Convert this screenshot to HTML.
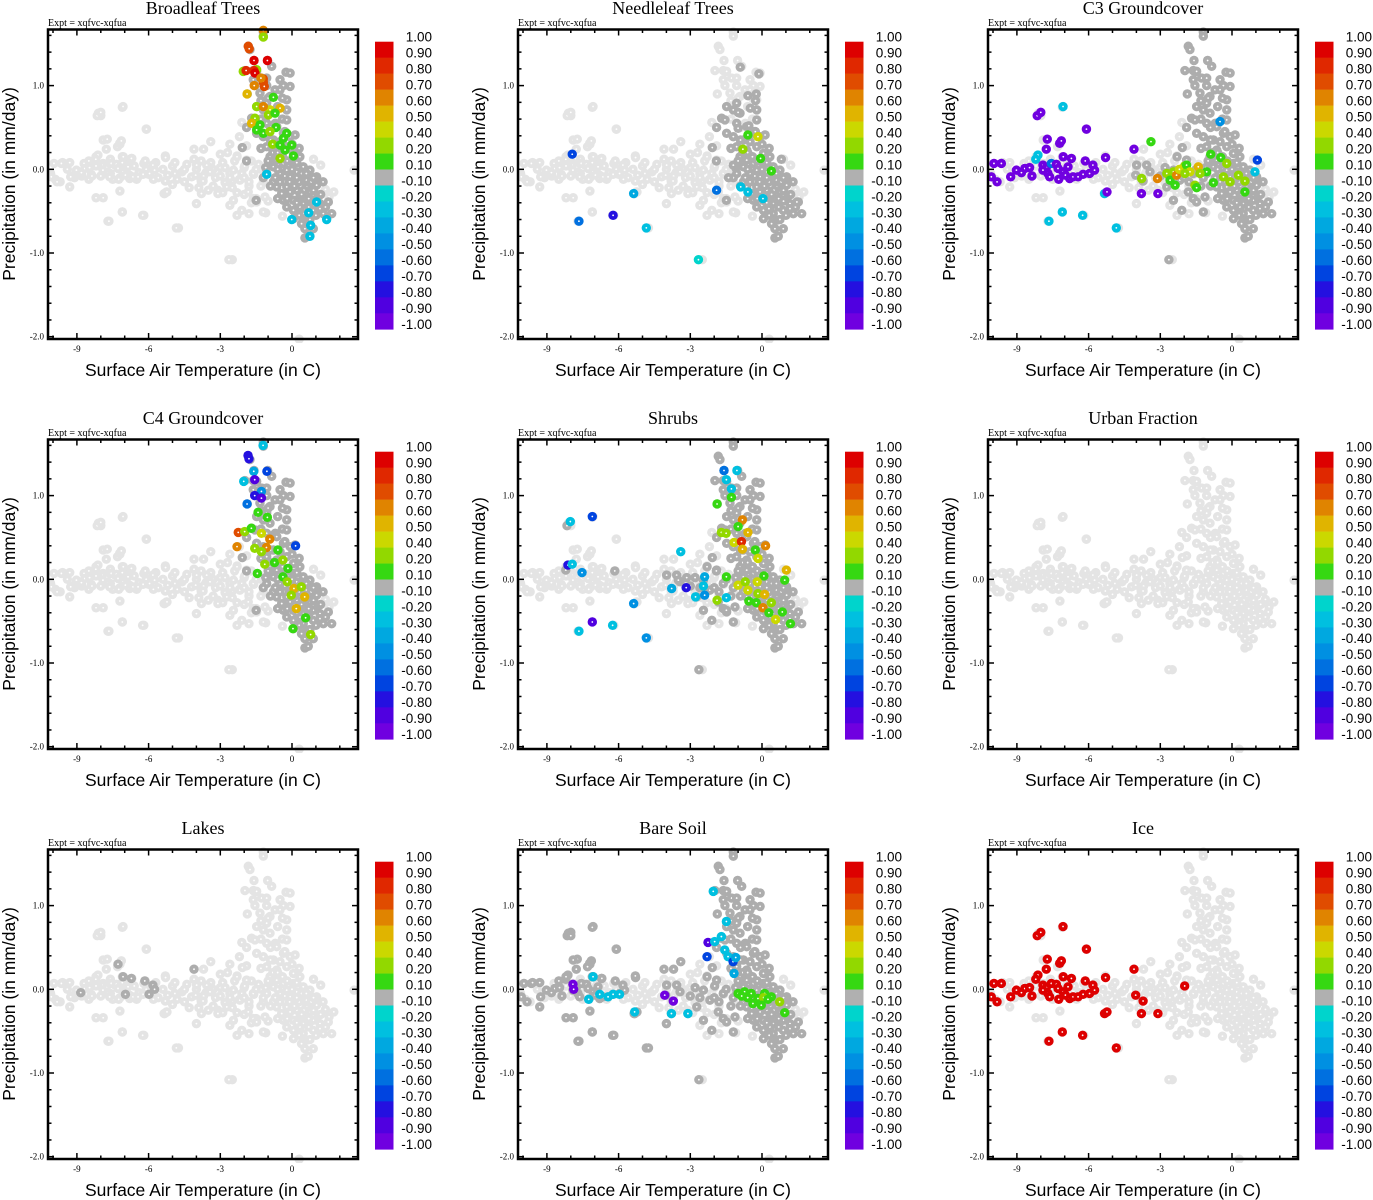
<!DOCTYPE html>
<html><head><meta charset="utf-8"><style>
html,body{margin:0;padding:0;background:#fff;}
svg{display:block;}
</style></head><body>
<svg id="chart" xmlns="http://www.w3.org/2000/svg" width="1373" height="1200" viewBox="0 0 1373 1200"></svg>
<script>
// ---------- data (Surface Air Temperature [C], Precipitation [mm/day]) ----------
const band = [[-9.0,-0.02],[-8.8,-0.08],[-8.6,0.02],[-8.4,-0.06],[-8.2,0.04],[-8.0,-0.08],[-7.8,0.0],[-7.6,-0.05],[-7.4,0.05],[-7.2,-0.1],[-7.0,0.0],[-6.8,-0.07],[-6.6,0.04],[-6.4,-0.04],[-6.2,0.07],[-6.0,-0.06],[-5.8,0.02],[-5.6,-0.1],[-5.4,0.0],[-5.2,-0.07],[-5.0,0.04],[-4.8,-0.12],[-4.6,-0.03],[-4.4,0.06],[-4.2,-0.09],[-4.0,0.0],[-3.8,-0.14],[-3.6,-0.04],[-3.4,0.08],[-3.2,-0.1],[-3.0,0.02],[-2.8,-0.16],[-2.6,-0.05],[-2.4,0.1],[-2.2,-0.12],[-2.0,0.02],[-1.8,-0.2],[-1.6,-0.06],[-1.4,0.06],[-1.2,-0.15],[-2.9,-0.28],[-2.0,-0.3],[-1.5,-0.35],[-3.3,-0.2],[-4.3,-0.22],[-5.8,-0.12],[-6.8,0.1],[-7.6,0.12],[-8.7,0.07],[-9.1,-0.1],[-3.8,0.1],[-4.9,0.08],[-2.7,0.2],[-1.9,0.28],[-4.5,-0.15],[-3.5,-0.25],[-2.5,-0.22],[-5.0,-0.18],[-9.4,0.0],[-9.2,-0.08],[-8.5,-0.12],[-7.9,0.07],[-7.5,-0.12],[-7.1,0.08],[-6.5,-0.12],[-6.1,0.0],[-5.7,0.08],[-5.3,-0.14],[-4.9,-0.05],[-4.5,0.0],[-4.1,0.12],[-3.7,-0.08],[-3.3,0.0],[-2.9,0.08],[-2.5,-0.14],[-2.1,-0.05],[-1.7,0.1],[-1.3,0.0],[-3.9,-0.22],[-3.1,-0.25],[-2.3,-0.28],[-1.7,-0.4],[-1.0,-0.38],[-2.6,0.3],[-3.0,0.18]];
const outliers = [[-7.1,0.74],[-8.1,0.67],[-8.0,0.64],[-6.1,0.48],[-7.9,0.35],[-7.2,0.3],[-7.3,0.27],[-3.4,0.33],[-3.7,0.24],[-8.2,0.15],[-8.5,0.1],[-7.1,0.15],[-6.7,0.13],[-9.6,0.08],[-9.3,0.08],[-5.3,0.16],[-9.3,-0.21],[-7.2,-0.26],[-8.2,-0.34],[-7.9,-0.34],[-5.35,-0.29],[-5.25,-0.27],[-4.0,-0.41],[-7.1,-0.51],[-6.2,-0.55],[-7.7,-0.62],[-4.75,-0.7],[-2.5,-1.08],[-2.6,-0.43],[-2.3,-0.55],[-1.8,-0.53],[-1.1,-0.52],[-2.2,0.39],[-2.3,0.16],[-2.1,0.56],[2.6,-0.01],[0.3,-2.03],[0.9,0.12],[1.2,0.05],[1.75,-0.27],[1.55,-0.33],[1.4,-0.24],[-0.4,-0.56],[-10.1,-0.05],[-9.9,-0.12],[-9.7,-0.15]];
const leftCloud = [[-7.07,0.75],[-8.15,0.64],[-8.0,0.68],[-6.09,0.48],[-7.73,0.36],[-7.21,0.31],[-7.14,0.34],[-7.77,0.24],[-8.12,0.17],[-8.21,0.12],[-7.06,0.15],[-6.72,0.13],[-6.14,0.1],[-5.29,0.14],[-4.1,0.24],[-1.98,0.04],[-9.96,0.07],[-9.65,0.07],[-9.02,-0.01],[-8.81,-0.04],[-8.67,0.01],[-8.47,0.02],[-7.91,0.05],[-7.77,0.02],[-7.56,0.07],[-7.35,0.06],[-7.28,0.01],[-6.86,0.03],[-7.91,-0.01],[-7.7,-0.05],[-7.63,-0.09],[-7.07,-0.03],[-6.97,-0.07],[-6.79,-0.11],[-6.65,-0.09],[-6.44,-0.09],[-6.23,-0.06],[-5.96,-0.05],[-5.82,0.05],[-5.75,-0.01],[-10.07,-0.09],[-9.83,-0.15],[-9.26,-0.09],[-8.37,-0.08],[-7.25,-0.12],[-4.03,-0.07],[-3.72,-0.14],[-5.33,-0.29],[-5.23,-0.27],[-3.79,-0.29],[-3.1,-0.29],[-7.1,-0.51],[-6.25,-0.55],[-7.66,-0.62],[-4.84,-0.7]];
const c3LeftVals = [-0.25,-0.95,-0.95,-0.95,-0.95,-0.95,-0.95,-0.95,-0.25,-0.25,-0.95,-0.95,-0.95,-0.95,-0.95,0.3,-0.95,-0.95,-0.95,-0.95,-0.95,-0.95,-0.95,-0.95,-0.6,-0.95,-0.95,-0.95,-0.95,-0.95,-0.95,-0.95,-0.95,-0.95,-0.95,-0.95,-0.95,-0.95,-0.95,-0.95,-0.95,-0.95,-0.95,-0.95,-0.95,0,0,-0.25,-0.95,-0.95,-0.95,-0.25,-0.25,-0.25,-0.25];
const iceLeftVals = [0.95,0.95,0.95,0.95,0.95,0.95,0.95,0.95,0.95,0.95,0.95,0.95,0.95,0.95,0.95,0.95,0.95,0.95,0.95,0.95,0.95,0.95,0.95,0.95,0.95,0.95,0.95,0.95,0.95,0.95,0.95,0.95,0.95,0.95,0.95,0.95,0.95,0.95,0.95,0.95,0.95,0.95,0.95,0.95,0.95,0.95,0.95,0.95,0.95,0.95,0.95,0.95,0.95,0.95,0.95];
const armUpper = [[-1.2,1.64],[-1.2,1.59],[-1.83,1.47],[-1.76,1.43],[-1.59,1.30],[-1.02,1.30],[-1.97,1.18],[-1.62,1.18],[-1.48,1.17],[-0.85,1.23],[-0.25,1.16],[-0.08,1.15],[-1.62,1.07],[-1.27,1.09],[-1.06,1.09],[-0.5,1.07],[-1.55,1.0],[-1.06,1.0],[-0.36,1.0],[-0.08,0.99],[-1.87,0.9],[-1.34,0.91],[-0.92,0.87],[-0.71,0.95],[-0.22,0.83],[-0.6,0.75],[-0.4,0.85],[-1.3,0.6],[-0.5,0.95],[-1.0,0.85],[-1.3,0.82],[-0.7,0.55],[-0.4,0.6],[-0.9,0.5]];
const armLower = [[-0.22,0.71],[-1.06,0.79],[-1.48,0.75],[-1.2,0.71],[-0.92,0.67],[-1.69,0.61],[-1.55,0.59],[-1.06,0.55],[-0.64,0.51],[-0.22,0.59],[-1.9,0.50],[-1.48,0.43],[-1.2,0.39],[-0.78,0.35],[-0.36,0.43],[-0.08,0.39],[0.13,0.41],[-2.08,0.26],[-1.06,0.27],[-0.64,0.23],[-0.22,0.27],[0.06,0.19],[0.33,0.15],[-0.78,0.03],[-0.36,0.07],[0.06,0.07],[0.47,0.03],[0.75,-0.01],[-1.06,-0.05],[-0.5,-0.05],[-0.08,-0.09],[0.33,-0.09],[0.61,-0.13],[1.03,-0.09],[-0.64,-0.21],[-0.22,-0.21],[0.2,-0.25],[0.61,-0.21],[1.03,-0.19],[-0.36,-0.37],[0.06,-0.37],[0.47,-0.41],[0.89,-0.37],[1.17,-0.41],[1.52,-0.39],[0.06,-0.49],[0.47,-0.53],[0.89,-0.49],[1.31,-0.53],[1.66,-0.53],[0.06,-0.59],[0.61,-0.61],[0.89,-0.71],[0.54,-0.71],[0.54,-0.82],[0.68,-0.8],[-0.92,0.15],[-0.64,0.11],[-0.22,-0.01],[0.2,-0.03],[-0.78,-0.15],[-0.43,-0.29],[-0.08,-0.27],[0.33,-0.33],[0.75,-0.27],[1.1,-0.31],[-0.22,-0.45],[0.33,-0.45],[1.17,-0.47],[-1.0,0.1],[-0.8,0.2],[-0.6,0.0],[-0.4,0.15],[-0.2,0.1],[0.0,0.0],[0.2,0.08],[0.4,-0.05],[0.6,-0.05],[0.8,-0.15],[-1.2,-0.1],[-0.9,-0.2],[-0.7,-0.1],[-0.5,-0.15],[-0.3,-0.08],[-0.1,-0.15],[0.1,-0.2],[0.3,-0.15],[0.5,-0.25],[0.7,-0.35],[0.9,-0.25],[1.2,-0.3],[-0.6,-0.35],[-0.2,-0.35],[0.2,-0.4],[0.4,-0.3],[0.7,-0.45],[1.0,-0.55],[1.4,-0.45],[0.3,-0.55],[0.4,-0.65],[0.75,-0.6],[-0.9,0.35],[-0.5,0.33],[-1.3,0.25],[0.0,0.3],[0.3,0.25],[-1.1,0.02],[-0.3,0.45],[0.2,-0.1],[0.9,-0.1],[1.3,-0.15],[-0.6,0.2]];
const horizRight = [[-3.99,0.05],[-3.57,0.05],[-3.43,-0.03],[-2.73,-0.21],[-2.45,-0.37],[-1.83,-0.27],[-1.62,-0.35],[-1.48,-0.39],[-1.13,-0.33],[-2.1,-0.49],[-1.2,-0.51],[-2.64,-1.08],[-1.9,0.11],[-2.3,0.15],[-2.45,-0.01],[-1.62,-0.05],[-2.18,-0.13],[-3.0,-0.08],[-2.8,0.02],[-1.3,-0.2],[-2.0,-0.1],[-1.5,0.0],[-2.6,-0.1],[-1.8,-0.15]];
const needleGreyExtra = [[-0.91,1.22],[-0.13,1.14],[-0.59,0.88],[-0.24,0.9],[-0.27,0.82],[-0.49,0.73],[-1.0,0.68],[-1.0,0.49],[-0.55,0.52],[-0.28,0.45],[-1.91,0.1],[-1.49,-0.37],[0.81,0.12],[0.9,-0.38],[1.46,-0.39],[0.29,-0.47],[-1.2,0.05],[-1.4,-0.1]];
const lakesGrey = [[-7.28,0.3],[-7.07,0.15],[-6.72,0.13],[-6.16,0.1],[-5.82,0.05],[-5.75,0.0],[-5.98,-0.06],[-6.97,-0.06],[-8.84,-0.04],[-4.1,0.24]];
const shrubGreyExtra = [[-8.16,0.64],[-8.21,0.11],[-6.16,0.1],[-3.5,-0.01],[-3.15,0.02],[-1.91,0.1],[-1.49,-0.37]];
const broadExtraGrey = [[-1.9,0.1],[-1.5,-0.37]];

const broadColored = [[-1.2,1.66,0.65],[-1.2,1.58,0.3],[-1.83,1.47,0.75],[-1.79,1.44,0.75],[-1.59,1.3,0.95],[-1.03,1.3,0.95],[-2.04,1.17,0.3],[-1.92,1.18,0.85],[-1.48,1.19,0.3],[-1.59,1.18,0.85],[-1.55,1.15,0.95],[-1.2,1.08,0.7],[-1.2,1.04,0.7],[-1.3,1.09,0.65],[-1.58,1.0,0.6],[-1.16,0.99,0.75],[-1.88,0.9,0.55],[-0.78,0.86,0.15],[-1.48,0.75,0.3],[-0.92,0.71,0.45],[-0.5,0.73,0.5],[-0.99,0.65,0.3],[-0.71,0.67,0.15],[-1.2,0.75,0.65],[-1.55,0.61,0.3],[-1.69,0.55,0.55],[-1.34,0.53,0.15],[-1.48,0.47,0.15],[-1.2,0.43,0.15],[-0.67,0.5,0.15],[-0.92,0.45,0.3],[-0.22,0.43,0.15],[-0.36,0.37,0.15],[-0.81,0.3,0.3],[-0.5,0.29,0.15],[-0.01,0.29,0.15],[-0.29,0.23,0.15],[-0.5,0.13,0.3],[0.06,0.16,0.15],[-1.06,-0.06,-0.25],[-0.01,-0.6,-0.3],[0.78,-0.67,-0.3],[0.75,-0.8,-0.25],[1.45,-0.6,-0.3],[1.03,-0.39,-0.25],[0.7,-0.52,-0.25]];
const needleColored = [[-7.94,0.18,-0.7],[-7.66,-0.62,-0.55],[-6.23,-0.55,-0.75],[-5.37,-0.29,-0.35],[-4.84,-0.7,-0.3],[-2.66,-1.08,-0.2],[-1.9,-0.25,-0.55],[-0.59,0.41,0.15],[-0.17,0.39,0.4],[-0.8,0.24,0.35],[-0.06,0.13,0.15],[0.39,-0.02,0.15],[-0.89,-0.21,-0.3],[-0.59,-0.27,-0.3],[0.04,-0.35,-0.3]];
const c3Colored = [[-3.39,0.33,0.15],[-3.78,-0.11,0.3],[-3.12,-0.11,0.6],[-2.73,-0.05,0.3],[-2.45,-0.03,0.35],[-2.59,-0.13,0.15],[-2.32,-0.07,0.6],[-2.2,0.0,0.4],[-2.38,-0.19,0.15],[-1.9,0.05,0.15],[-1.76,-0.03,0.4],[-1.41,0.03,0.55],[-1.06,-0.03,0.15],[-1.55,-0.19,0.35],[-1.48,-0.22,0.15],[-0.89,0.18,0.15],[-0.47,0.14,0.15],[-0.22,0.07,0.3],[-0.78,-0.16,0.15],[-0.36,-0.09,0.3],[-0.08,-0.15,0.3],[0.27,-0.07,0.3],[0.54,-0.14,0.3],[0.54,-0.27,0.15],[-1.34,-0.05,0.3],[-1.97,-0.05,0.3],[1.06,0.11,-0.65],[0.96,-0.03,-0.25],[-0.5,0.57,-0.5]];
const c4Colored = [[-1.21,1.6,-0.3],[-1.84,1.48,-0.8],[-1.8,1.44,-0.8],[-1.6,1.29,-0.4],[-1.05,1.29,-0.7],[-2.02,1.17,-0.3],[-1.56,1.19,-0.85],[-1.28,1.05,-0.5],[-1.56,1.0,-0.75],[-1.28,0.97,-0.85],[-1.88,0.9,-0.6],[-1.42,0.8,0.15],[-1.03,0.74,0.15],[-2.25,0.56,0.75],[-1.98,0.57,0.3],[-1.7,0.61,0.15],[-2.3,0.39,0.6],[-1.28,0.55,0.4],[-0.93,0.48,0.65],[-1.07,0.38,0.6],[-1.56,0.37,0.3],[-1.28,0.33,0.35],[-0.59,0.35,0.15],[0.15,0.4,-0.7],[-1.14,0.18,0.3],[-0.73,0.2,0.15],[-0.38,0.23,0.3],[-0.17,0.13,0.15],[-1.45,0.07,0.15],[-0.38,0.03,0.15],[-0.2,-0.03,0.3],[0.08,-0.11,0.55],[0.39,-0.09,0.3],[0.53,-0.21,0.55],[-0.03,-0.19,0.3],[0.18,-0.35,0.5],[0.57,-0.46,0.15],[0.04,-0.59,0.15],[0.78,-0.66,0.3]];
const shrubColored = [[-1.59,1.3,-0.55],[-1.05,1.3,-0.25],[-1.49,1.19,-0.3],[-1.28,1.08,-0.3],[-1.28,0.98,0.15],[-1.88,0.9,0.15],[-0.82,0.71,0.65],[-1.0,0.63,0.15],[-0.59,0.56,0.55],[-1.7,0.56,0.3],[-1.5,0.55,0.3],[-1.17,0.44,0.4],[-0.86,0.45,0.8],[-0.82,0.36,0.55],[0.15,0.4,0.65],[-0.28,0.35,0.15],[-0.17,0.25,0.45],[1.02,0.11,0.55],[0.95,-0.01,0.15],[0.08,0.04,0.15],[-1.49,0.03,0.15],[-1.0,-0.07,0.45],[-0.7,-0.03,0.3],[-0.2,-0.03,0.45],[-0.59,-0.13,0.4],[-0.17,-0.17,0.3],[0.11,-0.18,0.55],[-0.24,-0.28,0.15],[-0.55,-0.26,0.15],[0.39,-0.28,0.3],[0.04,-0.34,0.65],[0.29,-0.4,0.15],[0.57,-0.48,0.45],[0.85,-0.39,0.15],[1.19,-0.53,0.15],[-1.88,-0.25,0.3],[-8.02,0.69,-0.25],[-7.1,0.75,-0.7],[-8.12,0.17,-0.75],[-7.94,0.18,-0.25],[-7.53,0.08,-0.5],[-5.37,-0.29,-0.5],[-7.1,-0.51,-0.85],[-7.66,-0.62,-0.3],[-6.25,-0.55,-0.25],[-4.84,-0.7,-0.45],[-3.4,0.33,-0.25],[-3.78,-0.11,-0.35],[-3.17,-0.1,-0.75],[-2.78,-0.21,-0.25],[-2.4,0.03,-0.4],[-2.45,-0.08,-0.3],[-2.4,-0.19,-0.5],[-1.49,-0.22,-0.3]];
const bareColored = [[-2.04,1.17,-0.25],[-1.49,0.81,-0.25],[-2.26,0.56,-0.85],[-1.98,0.57,-0.3],[-2.3,0.39,-0.7],[-1.7,0.63,-0.25],[-1.56,0.47,-0.3],[-1.42,0.39,-0.25],[-1.21,0.33,-0.7],[-1.17,0.19,-0.4],[-1.1,0.38,-0.35],[-7.91,0.06,-0.95],[-7.88,0.0,-0.95],[-7.07,0.15,-0.25],[-7.25,-0.12,-0.25],[-6.79,-0.06,-0.25],[-6.44,-0.09,-0.25],[-6.23,-0.06,-0.25],[-5.96,-0.06,-0.25],[-5.33,-0.27,-0.25],[-4.07,-0.07,-0.95],[-3.71,-0.14,-0.95],[-3.79,-0.29,-0.25],[-3.1,-0.29,-0.25],[-1.0,-0.05,0.15],[-0.73,-0.03,0.15],[-0.45,-0.05,0.15],[-0.17,-0.11,0.15],[0.11,-0.05,0.15],[0.07,-0.1,0.3],[0.39,-0.09,0.15],[0.74,-0.15,0.3],[0.95,-0.28,0.15],[-0.38,-0.17,0.15],[-0.03,-0.19,0.15],[-0.6,-0.1,0.15],[0.25,-0.12,0.15],[-0.85,-0.08,0.15]];

// colour scale
const cbLabels = ["1.00","0.90","0.80","0.70","0.60","0.50","0.40","0.20","0.10","-0.10","-0.20","-0.30","-0.40","-0.50","-0.60","-0.70","-0.80","-0.90","-1.00"];
const cbBounds = [1.0,0.9,0.8,0.7,0.6,0.5,0.4,0.2,0.1,-0.1,-0.2,-0.3,-0.4,-0.5,-0.6,-0.7,-0.8,-0.9,-1.0];
const cbColors = ["#dd0000","#e02800","#e04c00","#e08400","#e0b400","#cbd800","#92d800","#36d812","#b0b0b0","#00d4cc","#00c0e0","#00a8e0","#0090e2","#0070e0","#0044e0","#2410e0","#5000e0","#7000e0"];
const xTicks = [-9,-6,-3,0];
const yTicks = [1.0,0.0,-1.0,-2.0];
const yTickLabels = ["1.0","0.0","-1.0","-2.0"];

const all = band.concat(outliers, leftCloud, armUpper, armLower, horizRight);
const arm = armUpper.concat(armLower);
function withVals(pts, vals){ return pts.map((p,i)=>[p[0],p[1],vals[i]]); }

const panels = [
 {title:"Broadleaf Trees", grey: arm.concat(broadExtraGrey), col: broadColored},
 {title:"Needleleaf Trees", grey: armLower.concat(needleGreyExtra), col: needleColored},
 {title:"C3 Groundcover", grey: arm.concat(horizRight), col: withVals(leftCloud,c3LeftVals).concat(c3Colored)},
 {title:"C4 Groundcover", grey: arm.concat(broadExtraGrey), col: c4Colored},
 {title:"Shrubs", grey: arm.concat(horizRight, shrubGreyExtra), col: shrubColored},
 {title:"Urban Fraction", grey: [], col: []},
 {title:"Lakes", grey: lakesGrey, col: []},
 {title:"Bare Soil", grey: leftCloud.concat(arm, horizRight, outliers.slice(0,27)), col: bareColored},
 {title:"Ice", grey: [], col: withVals(leftCloud, iceLeftVals)}
];

// ---------- drawing ----------
const NS = "http://www.w3.org/2000/svg";
const svg = document.getElementById("chart");
function mk(tag, attrs, parent){ const e=document.createElementNS(NS,tag); for(const k in attrs) e.setAttribute(k,attrs[k]); (parent||svg).appendChild(e); return e; }
function colorFor(v){ for(let i=0;i<cbColors.length;i++){ if(v<=cbBounds[i] && v>=cbBounds[i+1]) return cbColors[i]; } return "#b0b0b0"; }

panels.forEach((pn, idx)=>{
  const ox = (idx%3)*470, oy = Math.floor(idx/3)*410;
  const L=ox+48, R=ox+358, T=oy+29.5, B=oy+339;
  const xs = t => ox+292 + t*23.9;
  const ys = p => oy+169.3 - p*83.7;
  const g = mk("g",{});
  
  
  const tt = mk("text",{x:ox+203,y:oy+14,"text-anchor":"middle","font-family":"Liberation Serif, serif","font-size":"18"},g);
  tt.textContent = pn.title;
  
  
  const ex = mk("text",{x:L,y:oy+26,"font-family":"Liberation Serif, serif","font-size":"10"},g);
  ex.textContent = "Expt = xqfvc-xqfua";
  
  
  const cid = "clip"+idx;
  const cp = mk("clipPath",{id:cid},g); mk("rect",{x:L,y:T-4,width:R-L,height:B-T+8},cp);
  const pts = mk("g",{"clip-path":"url(#"+cid+")"},g);
  
  
  function dot(t,p,c){
    const cx=xs(t), cy=ys(p);
    const c1=mk("circle",{cx:cx,cy:cy,r:4.7,fill:c},pts);
    
    
    mk("circle",{cx:cx,cy:cy,r:0.9,fill:"#fff"},pts);
  }
  all.forEach(p=>dot(p[0],p[1],"#e4e4e4"));
  pn.grey.forEach(p=>dot(p[0],p[1],"#adadad"));
  pn.col.forEach(p=>dot(p[0],p[1],colorFor(p[2])));
  const fr = mk("rect",{x:L,y:T,width:R-L,height:B-T,fill:"none",stroke:"#000","stroke-width":2.5},g);
  
  
  for(let t=-10;t<=2;t++){
    const x=xs(t); if(x<L||x>R) continue;
    const len = xTicks.includes(t)?6:3.5;
    mk("line",{x1:x,y1:B,x2:x,y2:B-len,stroke:"#000","stroke-width":1.5},g);
    mk("line",{x1:x,y1:T,x2:x,y2:T+len,stroke:"#000","stroke-width":1.5},g);
  }
  xTicks.forEach(t=>{ const lb=mk("text",{x:xs(t),y:B+13,"text-anchor":"middle","font-family":"Liberation Serif, serif","font-size":"9"},g); lb.textContent=String(t);
    
     });
  for(let k=-10;k<=8;k++){
    const p=k*0.2, y=ys(p); if(y<T||y>B) continue;
    const major = (k%5===0);
    const len = major?6:3.5;
    mk("line",{x1:L,y1:y,x2:L+len,y2:y,stroke:"#000","stroke-width":1.5},g);
    mk("line",{x1:R,y1:y,x2:R-len,y2:y,stroke:"#000","stroke-width":1.5},g);
  }
  yTicks.forEach((p,i)=>{ const lb=mk("text",{x:L-4,y:ys(p)+3,"text-anchor":"end","font-family":"Liberation Serif, serif","font-size":"9"},g); lb.textContent=yTickLabels[i];
    
     });
  const xl = mk("text",{x:ox+203,y:oy+376,"text-anchor":"middle","font-family":"Liberation Sans, sans-serif","font-size":"17.5"},g);
  xl.textContent="Surface Air Temperature (in C)";
  
  
  const yl = mk("text",{x:0,y:0,"text-anchor":"middle","font-family":"Liberation Sans, sans-serif","font-size":"17.5",transform:"translate("+(ox+15)+","+(oy+184)+") rotate(-90)"},g);
  yl.textContent="Precipitation (in mm/day)";
  
  
  const cb = mk("g",{},g);
  
  
  const bt=oy+41.7, bh=(329.3-41.7)/cbColors.length;
  cbColors.forEach((c,i)=>{ const r=mk("rect",{x:ox+375,y:bt+i*bh,width:18.5,height:bh+0.3,fill:c},cb);
    
     });
  cbLabels.forEach((s,i)=>{ const lb=mk("text",{x:ox+432,y:bt+i*bh-0.2,"text-anchor":"end","font-family":"Liberation Sans, sans-serif","font-size":"13.5"},cb); lb.textContent=s;
    
     });
});
</script>
</body></html>
